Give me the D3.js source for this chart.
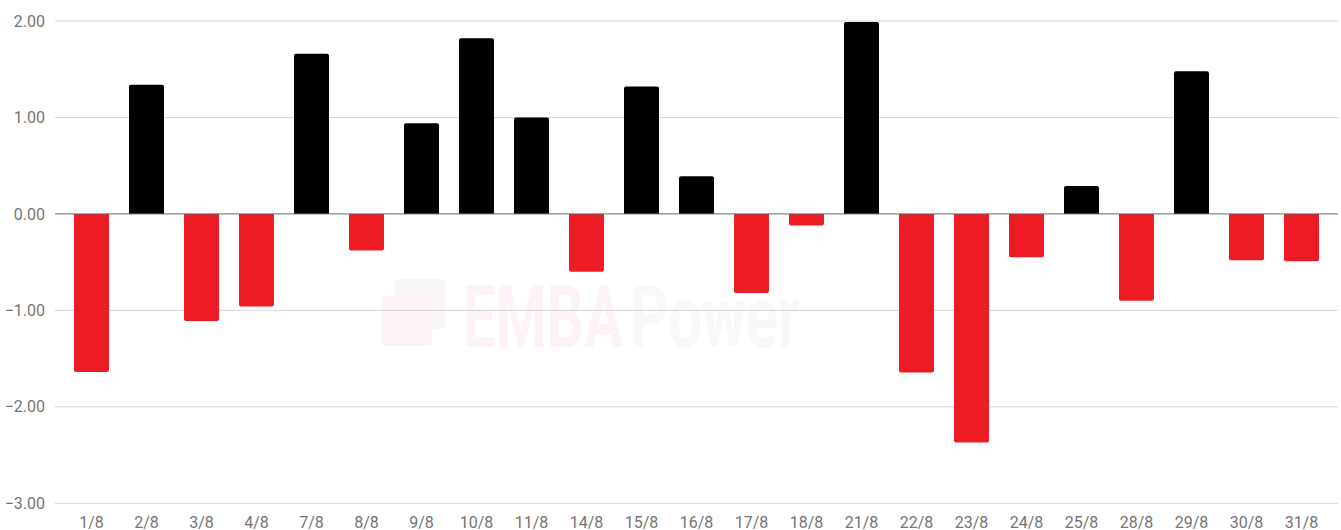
<!DOCTYPE html>
<html>
<head>
<meta charset="utf-8">
<script src="https://cdn.jsdelivr.net/npm/d3@7"></script>
<style>
  body { margin: 0; background: #fff; }
  svg { display: block; font-family: Roboto, "Noto Sans", sans-serif; }
</style>
</head>
<body>
<svg id="svg" width="1341" height="530"></svg>
<script>
const days = ['1/8', '2/8', '3/8', '4/8', '7/8', '8/8', '9/8', '10/8', '11/8', '14/8', '15/8', '16/8',
	'17/8', '18/8', '21/8', '22/8', '23/8', '24/8', '25/8', '28/8', '29/8', '30/8', '31/8'];
const changes = [-1.64, 1.34, -1.11, -0.96, 1.66, -0.38, 0.94, 1.82, 1.0, -0.6, 1.32, 0.39,
	-0.82, -0.12, 1.99, -1.645, -2.37, -0.45, 0.29, -0.9, 1.48, -0.48, -0.49];
const yTicks = [-3, -2, -1, 0, 1, 2];

const svg = d3.select('svg');
const gridLeft = 55;
const gridRight = 1338;

const x = d3.scaleBand().domain(days).range([64, 1329]).paddingInner(0.364).paddingOuter(0.182);
const y = d3.scaleLinear().domain([-3, 2]).range([503.3, 21]);

// watermark
const wm = svg.append('g');
wm.append('rect').attr('x', 395).attr('y', 279).attr('width', 50).attr('height', 50).attr('rx', 4).attr('fill', '#fbf6f6');
wm.append('rect').attr('x', 382).attr('y', 296).attr('width', 50).attr('height', 50).attr('rx', 4).attr('fill', '#fdf3f4');
const wmText = wm.append('text').attr('y', 347).attr('font-size', 88).attr('font-weight', 'bold');
wmText.append('tspan').attr('x', 463).attr('textLength', 160).attr('lengthAdjust', 'spacingAndGlyphs')
	.attr('fill', '#fdf3f4').text('EMBA');
wmText.append('tspan').attr('x', 630).attr('textLength', 170).attr('lengthAdjust', 'spacingAndGlyphs')
	.attr('fill', '#f8f8f8').text('Power');

// gridlines
svg.append('g').selectAll('line').data(yTicks.filter((t) => t !== 0)).enter().append('line')
	.attr('x1', gridLeft).attr('x2', gridRight)
	.attr('y1', (d) => y(d)).attr('y2', (d) => y(d))
	.attr('stroke', '#d6d6d6').attr('stroke-width', 1);

// y labels
svg.append('g').selectAll('text').data(yTicks).enter().append('text')
	.attr('x', 45).attr('y', (d) => y(d)).attr('dy', '0.35em')
	.attr('text-anchor', 'end').attr('font-size', 16).attr('fill', '#757575')
	.text((d) => d3.format('.2f')(d));

// bars, rounded on the far end
const r = 2;
function barPath(d, i) {
	const x0 = x(days[i]);
	const w = x.bandwidth();
	const y0 = y(0);
	const y1 = y(d);
	if (d >= 0) {
		return `M${x0},${y0}V${y1 + r}Q${x0},${y1} ${x0 + r},${y1}H${x0 + w - r}Q${x0 + w},${y1} ${x0 + w},${y1 + r}V${y0}Z`;
	}
	return `M${x0},${y0}V${y1 - r}Q${x0},${y1} ${x0 + r},${y1}H${x0 + w - r}Q${x0 + w},${y1} ${x0 + w},${y1 - r}V${y0}Z`;
}
svg.append('g').selectAll('path').data(changes).enter().append('path')
	.attr('d', barPath)
	.attr('fill', (d) => (d >= 0 ? '#000000' : '#ed1c24'));

// zero line
svg.append('line').attr('x1', gridLeft).attr('x2', gridRight)
	.attr('y1', y(0)).attr('y2', y(0)).attr('stroke', '#666').attr('stroke-width', 1);

// x labels
svg.append('g').selectAll('text').data(days).enter().append('text')
	.attr('x', (d) => x(d) + x.bandwidth() / 2).attr('y', 528)
	.attr('text-anchor', 'middle').attr('font-size', 16).attr('fill', '#757575')
	.text((d) => d);
</script>
</body>
</html>
